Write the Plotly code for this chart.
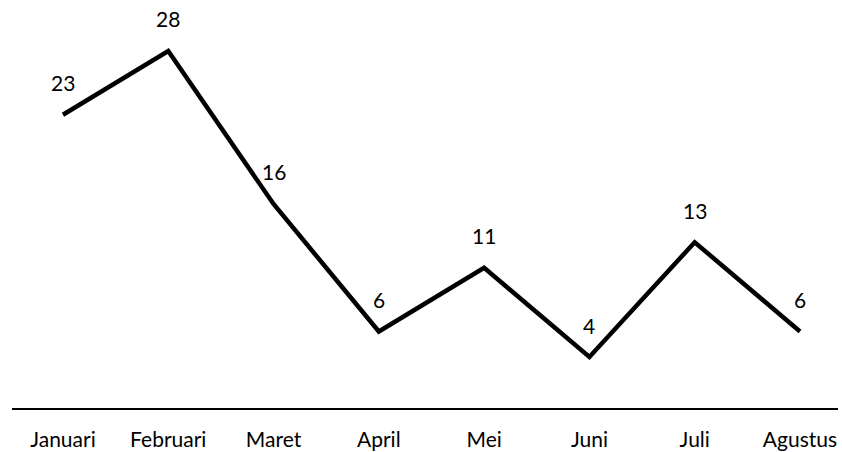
import plotly.graph_objects as go

months = ["Januari", "Februari", "Maret", "April", "Mei", "Juni", "Juli", "Agustus"]
counts = [23, 28, 16, 6, 11, 4, 13, 6]

FONT = "Lato"

fig = go.Figure()
fig.add_trace(go.Scatter(
    x=list(range(len(months))),
    y=counts,
    mode="lines",
    line=dict(color="black", width=4.5),
    hoverinfo="skip",
    showlegend=False,
))

# value labels above each point
for i, v in enumerate(counts):
    fig.add_annotation(
        x=i, y=v, text=str(v), showarrow=False,
        yanchor="middle", yshift=32,
        font=dict(family=FONT, size=21, color="black"),
    )

fig.update_layout(
    width=842, height=452,
    margin=dict(l=12, r=4, t=26, b=44, autoexpand=False),
    paper_bgcolor="white", plot_bgcolor="white",
    xaxis=dict(
        range=[-0.484, 7.361],
        tickmode="array",
        tickvals=list(range(len(months))),
        ticktext=months,
        showgrid=False, zeroline=False,
        showline=True, linecolor="black", linewidth=2,
        ticks="", ticklabelstandoff=12, automargin=False,
        tickfont=dict(family=FONT, size=21, color="black"),
    ),
    yaxis=dict(
        range=[0, 29.96], visible=False,
        showgrid=False, zeroline=False, automargin=False,
    ),
)

fig.write_html("out.html")
